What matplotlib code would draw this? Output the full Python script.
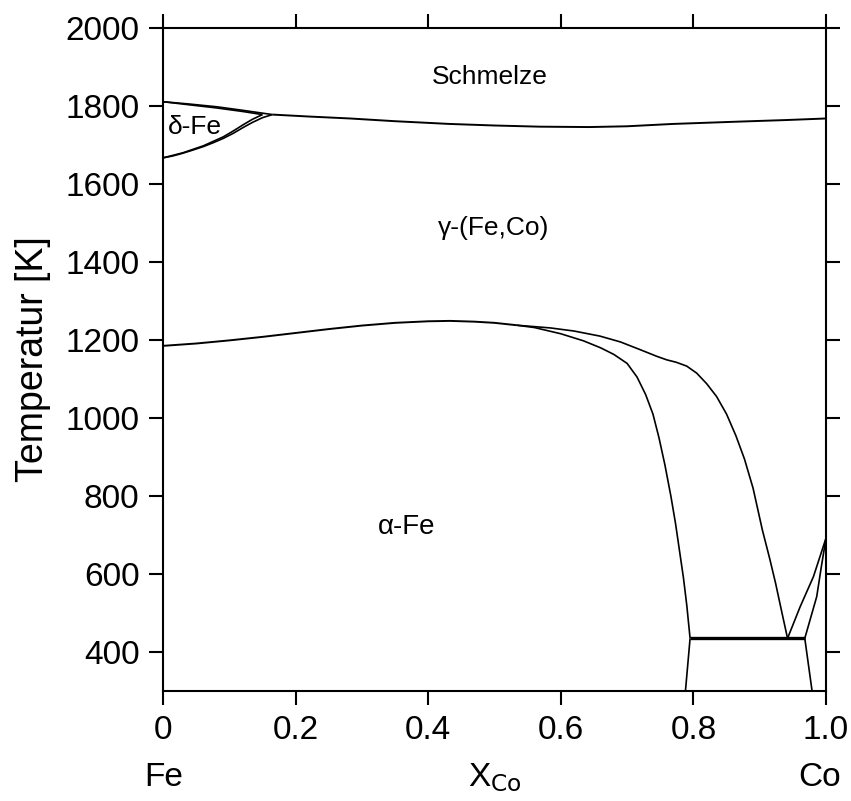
import matplotlib
matplotlib.use("Agg")
import matplotlib.pyplot as plt

plt.rcParams['font.family'] = ['Liberation Sans', 'DejaVu Sans']

# Liquidus Fe-side (L / L+delta) and delta solidus
liq_delta_x = [0.0, 0.04, 0.081, 0.12, 0.165]
liq_delta_T = [1811, 1805, 1798, 1789, 1778]
sol_delta_x = [0.0, 0.04, 0.081, 0.12, 0.15]
sol_delta_T = [1811, 1803, 1795, 1786, 1778]

# Liquidus / solidus gamma (nearly coincident)
liq_gamma_x = [0.165, 0.22, 0.282, 0.35, 0.432, 0.5, 0.568, 0.643, 0.70, 0.769, 0.869, 0.94, 1.0]
liq_gamma_T = [1778, 1773, 1768, 1761, 1754, 1750, 1747, 1746, 1748, 1754, 1760, 1764, 1768]

# delta / gamma boundaries
dg1_x = [0.0, 0.015, 0.030, 0.045, 0.061, 0.076, 0.091, 0.106, 0.121, 0.135, 0.15, 0.165]
dg1_T = [1667, 1672, 1679, 1687, 1696, 1706, 1717, 1730, 1745, 1758, 1770, 1778]
dg2_x = [0.0, 0.030, 0.061, 0.091, 0.106, 0.121, 0.135, 0.15]
dg2_T = [1667, 1680, 1698, 1721, 1736, 1752, 1766, 1778]

# alpha / gamma boundary (common part)
ag_x = [0.0, 0.05, 0.1, 0.15, 0.2, 0.25, 0.3, 0.35, 0.4, 0.433, 0.47, 0.5, 0.533]
ag_T = [1185, 1191, 1199, 1208, 1218, 1228, 1237, 1244, 1248, 1249, 1247, 1244, 1238]

# upper branch gamma / (alpha+gamma)
up_x = [0.533, 0.584, 0.62, 0.659, 0.69, 0.72, 0.745, 0.76, 0.774, 0.79, 0.805, 0.82,
        0.835, 0.85, 0.864, 0.877, 0.89, 0.904, 0.915, 0.924, 0.933, 0.942]
up_T = [1238, 1231, 1223, 1210, 1195, 1175, 1158, 1149, 1143, 1133, 1115, 1088,
        1055, 1010, 955, 895, 820, 713, 640, 576, 505, 435]

# lower branch (alpha+gamma) / alpha
lo_x = [0.533, 0.56, 0.6, 0.634, 0.66, 0.68, 0.70, 0.715, 0.728, 0.739, 0.748, 0.757,
        0.766, 0.773, 0.779, 0.785, 0.79, 0.795]
lo_T = [1238, 1232, 1216, 1198, 1180, 1163, 1140, 1105, 1060, 1010, 950, 880,
        800, 730, 660, 590, 520, 435]

# eutectoid line
eut_x = [0.795, 0.968]
eut_T = [435, 435]

# lines below eutectoid
bl_x = [0.795, 0.788]
bl_T = [435, 300]
br_x = [0.968, 0.979]
br_T = [435, 300]

# lines to Co hcp/fcc transition
c1_x = [0.942, 0.961, 0.981, 1.0]
c1_T = [435, 516, 593, 692]
c2_x = [0.968, 0.986, 0.993, 1.0]
c2_T = [435, 542, 619, 692]

xticks = [0, 0.2, 0.4, 0.6, 0.8, 1.0]
xticklabels = ['0', '0.2', '0.4', '0.6', '0.8', '1.0']
yticks = [400, 600, 800, 1000, 1200, 1400, 1600, 1800, 2000]

fig = plt.figure(figsize=(8.51, 8.01), dpi=100)
ax = fig.add_axes([163/851, 110/801, 663/851, 663/801])

lw = 1.2
for xs, ts, w in [
    (liq_delta_x, liq_delta_T, lw), (sol_delta_x, sol_delta_T, lw),
    (liq_gamma_x, liq_gamma_T, 1.4),
    (dg1_x, dg1_T, lw), (dg2_x, dg2_T, lw),
    (ag_x, ag_T, 1.4), (up_x, up_T, lw), (lo_x, lo_T, lw),
    (eut_x, eut_T, 2.4), (bl_x, bl_T, lw), (br_x, br_T, lw),
    (c1_x, c1_T, lw), (c2_x, c2_T, lw)]:
    ax.plot(xs, ts, color='black', lw=w, solid_capstyle='butt', solid_joinstyle='round')

ax.set_xlim(0, 1.0)
ax.set_ylim(300, 2000)
ax.set_xticks(xticks)
ax.set_xticklabels(xticklabels)
ax.set_yticks(yticks)
for s in ax.spines.values():
    s.set_linewidth(1.5)
ax.tick_params(direction='out', length=10, width=1.5, labelsize=24,
               top=True, right=True, pad=7)
ax.set_ylabel('Temperatur [K]', fontsize=27, labelpad=10)

ax.text(0.493, 1874, 'Schmelze', fontsize=19, ha='center', va='center')
ax.text(0.008, 1746, 'δ-Fe', fontsize=19, ha='left', va='center')
ax.text(0.498, 1487, 'γ-(Fe,Co)', fontsize=19, ha='center', va='center')
ax.text(0.367, 720, 'α-Fe', fontsize=20, ha='center', va='center')

fig.text(164/851, 23/801, 'Fe', fontsize=24, ha='center', va='center')
fig.text(495/851, 23/801, r'X$_{\mathrm{Co}}$', fontsize=24, ha='center', va='center')
fig.text(820/851, 23/801, 'Co', fontsize=24, ha='center', va='center')

fig.savefig('out.png', dpi=100)
